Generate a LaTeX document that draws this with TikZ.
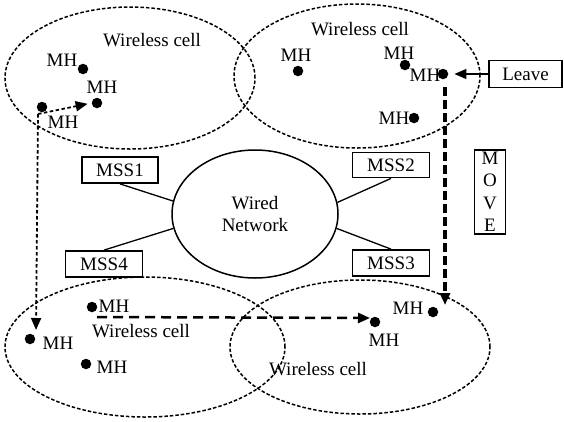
\documentclass[tikz,border=0pt]{standalone}
\usepackage{fontspec}
\setmainfont{Liberation Serif}
\usetikzlibrary{shapes.geometric,arrows.meta}
\begin{document}
\begin{tikzpicture}[x=1pt,y=-1pt,
  every node/.style={font=\fontsize{19}{22}\selectfont, inner sep=0pt},
  cell/.style={draw, ellipse, line width=1.5pt, dash pattern=on 3.5pt off 2pt},
  wired/.style={draw, ellipse, line width=1.5pt, align=center},
  box/.style={draw, line width=1.8pt, inner sep=0pt},
  dot/.style={circle, fill=black, minimum size=10.5pt, inner sep=0pt},
  tip/.style={-{Triangle[length=12pt,width=10pt]}},
  thickdash/.style={line width=3.2pt, dash pattern=on 9pt off 4pt},
  middash/.style={line width=2.5pt, dash pattern=on 10pt off 6pt},
  finedash/.style={line width=1.8pt, dash pattern=on 3.5pt off 2.5pt}
]
\useasboundingbox (0,0) rectangle (564,421);
% cells
\node[cell, minimum width=250pt, minimum height=142pt] (c1) at (130,78) {};
\node[cell, minimum width=246pt, minimum height=144pt] (c2) at (357,76) {};
\node[cell, minimum width=280pt, minimum height=140pt] (c4) at (145,347) {};
\node[cell, minimum width=260pt, minimum height=134pt] (c3) at (360,347) {};
% wired network
\node[wired, minimum width=166pt, minimum height=128pt] (wn) at (255,214) {Wired\\Network};
% MSS boxes
\node[box, minimum width=76pt, minimum height=26pt] (mss1) at (120,170) {MSS1};
\node[box, minimum width=77pt, minimum height=25pt] (mss2) at (391,165) {MSS2};
\node[box, minimum width=77pt, minimum height=26pt] (mss3) at (391,263) {MSS3};
\node[box, minimum width=77pt, minimum height=26pt] (mss4) at (104,264) {MSS4};
\draw[line width=1.3pt] (mss1.south) -- (wn.171);
\draw[line width=1.3pt] (mss2.south) -- (wn.8);
\draw[line width=1.3pt] (mss3.north) -- (wn.-10);
\draw[line width=1.3pt] (mss4.north) -- (wn.190);
% MOVE and Leave
\node[box, minimum width=31pt, minimum height=84pt, align=center, font=\fontsize{19}{22.5}\selectfont] (move) at (490,192) {M\\O\\V\\E};
\node[box, minimum width=73pt, minimum height=27pt] (leave) at (525.5,74) {Leave};
% labels "Wireless cell"
\node (w1) at (152,40) {Wireless cell};
\node (w2) at (360,29) {Wireless cell};
\node (w4) at (141,331) {Wireless cell};
\node (w3) at (318,369) {Wireless cell};
% top-left MHs
\node[dot] (a1) at (83,69) {};
\node (a1l) at (62,60) {MH};
\node[dot] (a2) at (97,103) {};
\node (a2l) at (102,87) {MH};
\node[dot] (a3) at (42,107) {};
\node (a3l) at (63,122) {MH};
% top-right MHs
\node[dot] (b1) at (298,71) {};
\node (b1l) at (296,55) {MH};
\node (b2l) at (399,53) {MH};
\node[dot] (b2) at (405,65) {};
\node (b3l) at (425,75) {MH};
\node[dot] (b3) at (443,74) {};
\node (b4l) at (394,118) {MH};
\node[dot] (b4) at (414,118) {};
% bottom-left MHs
\node[dot] (d1) at (92,307) {};
\node (d1l) at (114,306) {MH};
\node[dot] (d2) at (30,339) {};
\node (d2l) at (58,343) {MH};
\node[dot] (d3) at (86,364) {};
\node (d3l) at (112,367) {MH};
% bottom-right MHs
\node (e1l) at (408,308) {MH};
\node[dot] (e1) at (433,312) {};
\node[dot] (e2) at (375,322) {};
\node (e2l) at (384,340) {MH};
% connectors
\draw[line width=1.5pt, tip, shorten >=6pt] (leave.west) -- (b3.east);
\coordinate (mvend) at (445,305);
\draw[thickdash, tip] (445,87) -- (mvend);
\coordinate (fs) at (38,114);
\draw[finedash, tip, shorten >=4pt] (fs) -- (a2.west);
\coordinate (fe) at (36,330);
\draw[finedash, tip] (fs) -- (fe);
\coordinate (hs) at (97,317);
\coordinate (he) at (370,318);
\draw[middash, tip] (hs) -- (he);
\end{tikzpicture}
\end{document}
